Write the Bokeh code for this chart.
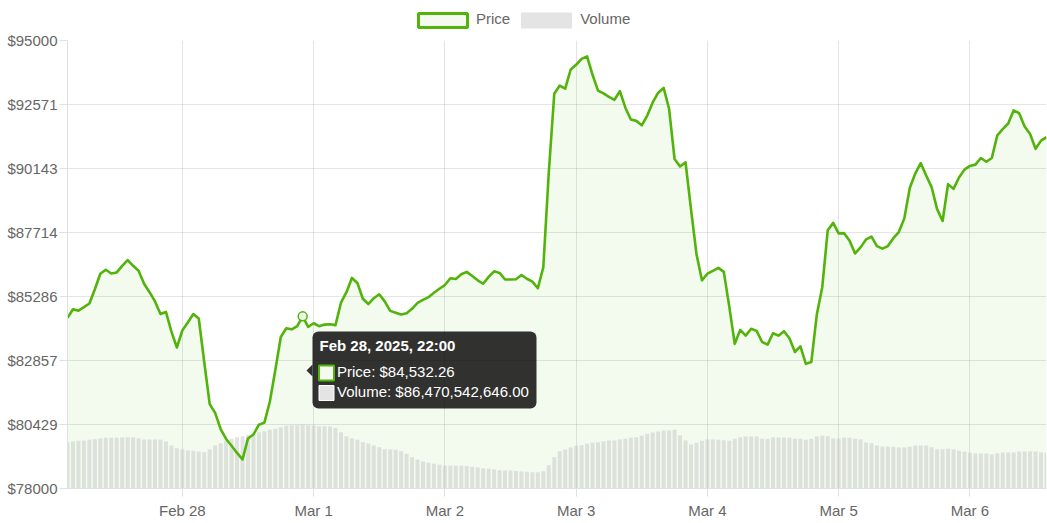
from bokeh.plotting import figure
from bokeh.layouts import column
from bokeh.models import (ColumnDataSource, FixedTicker, Range1d, Legend, LegendItem,
                          BoxAnnotation, PolyAnnotation, Label)
from bokeh.embed import file_html
from bokeh.resources import INLINE

# ---------------- data (hourly, starting Feb 27 2025 03:00) ----------------
price = [
    84476, 84800, 84750, 84880, 85020, 85560, 86150, 86300, 86160, 86200,
    86450, 86670, 86450, 86260, 85770, 85450, 85100, 84620, 84700, 83950,
    83350, 84000, 84300, 84620, 84450, 82800, 81200, 80870, 80250, 79880,
    79620, 79350, 79100, 79900, 80050, 80420, 80500, 81300, 82500, 83750,
    84080, 84040, 84160, 84532.26, 84130, 84270, 84160, 84220, 84230, 84200,
    85050, 85450, 85990, 85800, 85200, 85000, 85220, 85370, 85100, 84740,
    84670, 84600, 84650, 84820, 85040, 85160, 85260, 85430, 85580, 85720,
    85980, 85950, 86130, 86220, 86060, 85900, 85770, 86030, 86240, 86180,
    85930, 85930, 85940, 86100, 85960, 85850, 85600, 86400, 90000, 92980,
    93290, 93170, 93900, 94080, 94300, 94400, 93700, 93100, 92990, 92860,
    92750, 93080, 92450, 92000, 91950, 91780, 92150, 92650, 93020, 93200,
    92400, 90500, 90220, 90380, 88600, 86900, 85900, 86150, 86260, 86370,
    86220, 84900, 83490, 84020, 83800, 84060, 83980, 83560, 83460, 83890,
    83800, 83970, 83700, 83180, 83390, 82730, 82800, 84600, 85640, 87800,
    88080, 87680, 87690, 87400, 86920, 87150, 87450, 87560, 87200, 87100,
    87200, 87500, 87730, 88250, 89400, 89950, 90350, 89880, 89430, 88600,
    88150, 89550, 89370, 89800, 90100, 90240, 90290, 90540, 90400, 90540,
    91400, 91640, 91850, 92350, 92240, 91740, 91450, 90890, 91200, 91330,
]
volume_bn = [
    62.8, 63.8, 64.7, 65.1, 66.1, 66.9, 68.3, 68.8, 68.8, 68.8,
    69.2, 69.6, 69.2, 68.3, 66.5, 66.5, 66.5, 66.1, 63.8, 58.4,
    54.7, 52.9, 51.6, 51.2, 50.2, 49.3, 52.9, 58.4, 61.5, 65.1,
    67.4, 69.6, 71.0, 72.9, 75.0, 76.4, 77.8, 79.7, 81.0, 83.2,
    85.1, 85.9, 85.9, 86.470542646, 85.9, 85.1, 84.5, 84.5, 84.0, 82.3,
    76.4, 71.0, 68.3, 66.1, 62.8, 61.1, 58.4, 56.0, 53.3, 52.9,
    52.5, 50.6, 47.1, 42.5, 39.4, 36.6, 34.9, 33.5, 32.2, 30.8,
    30.8, 30.8, 30.8, 30.4, 29.4, 28.5, 27.6, 26.7, 25.8, 24.9,
    24.4, 24.4, 23.9, 23.1, 22.6, 22.2, 22.2, 23.3, 31.7, 42.5,
    50.4, 52.9, 55.6, 57.9, 58.8, 60.6, 62.0, 62.8, 64.2, 65.1,
    65.1, 66.5, 67.4, 68.8, 69.6, 71.5, 74.2, 76.0, 77.3, 78.7,
    78.7, 79.7, 71.9, 65.1, 59.7, 62.0, 64.7, 66.5, 66.5, 66.1,
    65.6, 64.7, 67.4, 69.6, 70.6, 70.6, 70.6, 67.4, 67.4, 69.2,
    69.2, 69.2, 68.8, 67.4, 67.4, 66.1, 67.4, 70.6, 71.5, 71.0,
    67.9, 67.9, 69.2, 68.8, 67.4, 66.5, 62.4, 61.5, 58.4, 57.0,
    57.0, 56.5, 55.6, 55.6, 56.5, 58.4, 58.4, 58.4, 56.0, 53.3,
    53.3, 53.8, 52.9, 51.2, 49.8, 48.4, 47.5, 47.5, 47.5, 46.1,
    47.5, 48.9, 48.9, 48.9, 50.2, 50.2, 50.6, 50.2, 49.3, 48.4,
]
hours = list(range(len(price)))

day_tick_hours = [21, 45, 69, 93, 117, 141, 165]
day_tick_labels = ["Feb 28", "Mar 1", "Mar 2", "Mar 3", "Mar 4", "Mar 5", "Mar 6"]
price_ticks = [78000, 80429, 82857, 85286, 87714, 90143, 92571, 95000]
price_tick_labels = ["$78000", "$80429", "$82857", "$85286", "$87714", "$90143", "$92571", "$95000"]
series_names = ["Price", "Volume"]

hover_index = 43
tooltip_title = "Feb 28, 2025, 22:00"
tooltip_price = "Price: $84,532.26"
tooltip_volume = "Volume: $86,470,542,646.00"

# ---------------- styles ----------------
GREEN = "#52b30a"
FONT = "Liberation Sans"
TXT = "#666666"

W = 1047
LEG_H = 30
MAIN_H = 523 - LEG_H
LEFT, RIGHT, TOP, BOTTOM = 67, 1, 10, 35
FRAME_BOTTOM_PAGE = 523 - BOTTOM  # page y of the plot frame's bottom edge

# ---------------- legend strip (frame aligned with main frame: x from LEFT) ----------------
leg = figure(width=W, height=LEG_H, output_backend="svg", toolbar_location=None,
             x_range=Range1d(0, W - LEFT - RIGHT), y_range=Range1d(0, LEG_H),
             x_axis_location=None, y_axis_location=None,
             min_border_left=LEFT, min_border_right=RIGHT, min_border_top=0, min_border_bottom=0)
leg.outline_line_color = None
leg.xgrid.visible = False
leg.ygrid.visible = False
r_price = leg.quad(left=[], right=[], top=[], bottom=[], fill_alpha=0, line_alpha=0)
r_vol = leg.quad(left=[], right=[], top=[], bottom=[], fill_alpha=0, line_alpha=0)
legend = Legend(items=[LegendItem(label=series_names[0], renderers=[r_price]),
                       LegendItem(label=series_names[1], renderers=[r_vol])],
                orientation="horizontal", location=(417 - LEFT, 3),
                glyph_width=50, glyph_height=15, label_height=15, label_standoff=9, spacing=11,
                padding=0, margin=0, border_line_alpha=0, background_fill_alpha=0,
                label_text_font=FONT, label_text_font_size="15px", label_text_color=TXT)
leg.add_layout(legend, "center")


def lbox(l, r, t, b, **kw):
    # page px -> legend-strip frame screen units
    return BoxAnnotation(left=l - LEFT, right=r - LEFT, top=LEG_H - t, bottom=LEG_H - b,
                         left_units="screen", right_units="screen", top_units="screen",
                         bottom_units="screen", **kw)


leg.add_layout(lbox(418, 467, 13, 27, fill_color="#f4faef", fill_alpha=1,
                    line_color=GREEN, line_alpha=1, line_width=3))
leg.add_layout(lbox(521, 571, 12.5, 27.5, fill_color="#e4e4e4", fill_alpha=1,
                    line_color="#e4e4e4", line_alpha=1, line_width=1))

# ---------------- main chart ----------------
src = ColumnDataSource(dict(x=hours, price=price, vol=volume_bn,
                            base=[price_ticks[0]] * len(price)))

p = figure(width=W, height=MAIN_H, output_backend="svg", toolbar_location=None,
           x_range=Range1d(0, len(price) - 1), y_range=Range1d(price_ticks[0], price_ticks[-1]),
           min_border_left=LEFT, min_border_right=RIGHT, min_border_top=TOP,
           min_border_bottom=BOTTOM, background_fill_color="white", border_fill_color="white")
p.outline_line_color = None
p.extra_y_ranges = {"vol": Range1d(0, 608)}

# area fill
p.varea(x="x", y1="base", y2="price", source=src, fill_color=GREEN, fill_alpha=0.07)
# volume bars
p.vbar(x="x", top="vol", width=0.72, bottom=0, source=src, y_range_name="vol",
       fill_color="#c8c8c8", fill_alpha=0.5, line_alpha=0)
# price line
p.line(x="x", y="price", source=src, line_color=GREEN, line_width=2.6, line_join="round")
# hovered point
p.scatter(x=[hours[hover_index]], y=[price[hover_index]], size=9, marker="circle",
          line_color=GREEN, line_width=1.5, fill_color="#eef6e8")

# axes / grid
for ax in (p.xaxis, p.yaxis):
    ax.axis_line_color = "#e0e0e0"
    ax.major_tick_line_color = "#e0e0e0"
    ax.major_tick_out = 8
    ax.major_tick_in = 0
    ax.minor_tick_line_color = None
    ax.major_label_text_font = FONT
    ax.major_label_text_font_size = "15px"
    ax.major_label_text_color = TXT

p.xaxis.ticker = FixedTicker(ticks=day_tick_hours)
p.xaxis.major_label_overrides = {h: l for h, l in zip(day_tick_hours, day_tick_labels)}
p.xaxis.major_label_standoff = 5
p.yaxis.ticker = FixedTicker(ticks=price_ticks)
p.yaxis.major_label_overrides = {v: l for v, l in zip(price_ticks, price_tick_labels)}
p.yaxis.major_label_standoff = 2

p.xgrid.grid_line_color = "#000000"
p.xgrid.grid_line_alpha = 0.1
p.ygrid.grid_line_color = "#000000"
p.ygrid.grid_line_alpha = 0.1


# tooltip (drawn statically, page px -> frame screen units)
def fx(sx):
    return sx - LEFT


def fy(sy):
    return FRAME_BOTTOM_PAGE - sy


def box(l, r, t, b, **kw):
    return BoxAnnotation(left=fx(l), right=fx(r), top=fy(t), bottom=fy(b),
                         left_units="screen", right_units="screen", top_units="screen",
                         bottom_units="screen", **kw)


p.add_layout(box(312, 536, 331, 408, fill_color="#000000", fill_alpha=0.8, line_alpha=0,
                 border_radius=6))
p.add_layout(PolyAnnotation(xs=[fx(306), fx(312), fx(312)], ys=[fy(370), fy(364), fy(376)],
                            xs_units="screen", ys_units="screen", fill_color="#000000",
                            fill_alpha=0.8, line_alpha=0))
p.add_layout(box(318.5, 333.5, 365, 380, fill_color="#f4faef", fill_alpha=1,
                 line_color=GREEN, line_alpha=1, line_width=2))
p.add_layout(box(318.5, 333.5, 385, 400, fill_color="#e4e4e4", fill_alpha=1,
                 line_color="#ffffff", line_alpha=1, line_width=1))
p.add_layout(Label(x=fx(319), y=fy(345), x_units="screen", y_units="screen", text=tooltip_title,
                   text_font=FONT, text_font_size="15px", text_font_style="bold",
                   text_color="white", text_baseline="alphabetic"))
p.add_layout(Label(x=fx(336.5), y=fy(370.5), x_units="screen", y_units="screen", text=tooltip_price,
                   text_font=FONT, text_font_size="15px", text_color="white",
                   text_baseline="alphabetic"))
p.add_layout(Label(x=fx(336.5), y=fy(390.5), x_units="screen", y_units="screen", text=tooltip_volume,
                   text_font=FONT, text_font_size="15px", text_color="white",
                   text_baseline="alphabetic"))

layout = column(leg, p, spacing=0)
open("out.html", "w").write(file_html(layout, INLINE))
